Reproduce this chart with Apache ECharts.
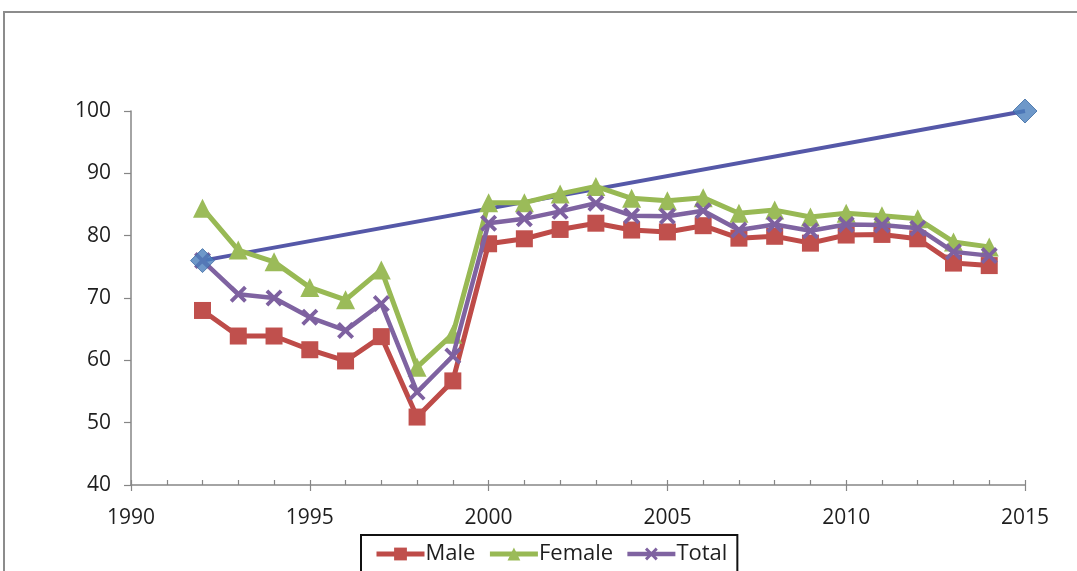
<!DOCTYPE html>
<html>
<head>
<meta charset="utf-8">
<title>Male, Female and Total, 1992–2014</title>
<script src="https://cdn.jsdelivr.net/npm/echarts@6/dist/echarts.min.js"></script>
<style>
  html, body { margin: 0; padding: 0; background: #fff; }
  #chart { width: 1077px; height: 571px; }
</style>
</head>
<body>
<div id="chart"></div>
<script>
// Yearly values per group
const years = [1992, 1993, 1994, 1995, 1996, 1997, 1998, 1999, 2000, 2001, 2002, 2003,
               2004, 2005, 2006, 2007, 2008, 2009, 2010, 2011, 2012, 2013, 2014];
const male = [68.0, 63.9, 63.9, 61.7, 59.9, 63.8, 50.9, 56.7, 78.7, 79.5, 81.0, 82.0,
              80.9, 80.6, 81.6, 79.6, 79.9, 78.8, 80.1, 80.2, 79.5, 75.6, 75.2];
const female = [84.4, 77.7, 75.8, 71.7, 69.7, 74.5, 58.9, 64.2, 85.3, 85.3, 86.7, 87.9,
                86.0, 85.6, 86.1, 83.6, 84.1, 83.0, 83.6, 83.2, 82.7, 79.0, 78.2];
const total = [76.0, 70.6, 70.0, 66.9, 64.8, 69.1, 54.9, 60.7, 82.0, 82.7, 83.9, 85.2,
               83.2, 83.1, 84.0, 80.9, 81.8, 80.8, 81.8, 81.7, 81.2, 77.4, 76.8];
// Target line: start and end points
const targetYears = [1992, 2015];
const targetValues = [76, 100];
const seriesNames = ['Male', 'Female', 'Total'];

const pairs = (xs, ys) => xs.map((x, i) => [x, ys[i]]);

const FONT = '"Open Sans", Lato, sans-serif';
const TEXT = '#1e1e1e';
const AXIS = '#868686';

// Filled "x" shape used as the Total marker
const crossPath = 'path://M0,1.6 L1.6,0 L5,3.4 L8.4,0 L10,1.6 L6.6,5 L10,8.4 L8.4,10 L5,6.6 L1.6,10 L0,8.4 L3.4,5 Z';

const chart = echarts.init(document.getElementById('chart'), null, { renderer: 'canvas' });

chart.setOption({
  animation: false,
  backgroundColor: '#ffffff',
  graphic: [{
    type: 'rect',
    shape: { x: 4, y: 12, width: 1100, height: 620 },
    style: { fill: 'none', stroke: '#8c8c8c', lineWidth: 2 },
    silent: true, z: -10
  }],
  grid: { left: 131, right: 52, top: 111, bottom: 86, containLabel: false },
  legend: {
    data: seriesNames,
    left: 361, top: 535,
    padding: [8, 10, 30, 13],
    itemWidth: 48, itemHeight: 16, itemGap: 12,
    borderColor: '#111', borderWidth: 2,
    lineStyle: { width: 'inherit' },
    textStyle: { fontFamily: FONT, fontSize: 22, color: TEXT, padding: [0, 0, 0, -4] }
  },
  xAxis: [{
    type: 'value', min: 1990, max: 2015, interval: 5,
    axisLine: { show: true, lineStyle: { color: AXIS, width: 1.5 } },
    axisTick: { show: true, length: 6, lineStyle: { color: AXIS, width: 1.2 } },
    axisLabel: { fontFamily: FONT, fontSize: 21, color: TEXT, margin: 23, formatter: v => String(v) },
    splitLine: { show: false }
  }, {
    // yearly inner ticks
    type: 'value', min: 1990, max: 2015, interval: 1, position: 'bottom',
    axisLine: { show: false },
    axisTick: { show: true, inside: true, length: 5, lineStyle: { color: AXIS, width: 1.2 } },
    axisLabel: { show: false },
    splitLine: { show: false }
  }],
  yAxis: {
    type: 'value', min: 40, max: 100, interval: 10,
    axisLine: { show: true, lineStyle: { color: AXIS, width: 1.5 } },
    axisTick: { show: true, length: 7, lineStyle: { color: AXIS, width: 1.2 } },
    axisLabel: { fontFamily: FONT, fontSize: 21, color: TEXT, margin: 20 },
    splitLine: { show: false }
  },
  series: [
    {
      name: 'Target', type: 'line', data: pairs(targetYears, targetValues),
      showSymbol: false, lineStyle: { color: '#5558a8', width: 4 }, z: 2
    },
    {
      name: 'Male', type: 'line', data: pairs(years, male),
      symbol: 'rect', symbolSize: 17,
      lineStyle: { color: '#be4b48', width: 5 },
      itemStyle: { color: '#c0504d' }, z: 3
    },
    {
      name: 'Female', type: 'line', data: pairs(years, female),
      symbol: 'triangle', symbolSize: 19,
      lineStyle: { color: '#98b954', width: 5 },
      itemStyle: { color: '#9bbb59' }, z: 4
    },
    {
      name: 'Total', type: 'line', data: pairs(years, total),
      symbol: crossPath, symbolSize: 17,
      lineStyle: { color: '#7f63a1', width: 4.5 },
      itemStyle: { color: '#7e61a0' }, z: 5
    },
    {
      name: 'TargetPoints', type: 'scatter', data: pairs(targetYears, targetValues),
      symbol: 'diamond', symbolSize: 24,
      itemStyle: { color: '#4a7ebb', borderColor: '#3c6aa3', borderWidth: 1 }, z: 6
    }
  ]
});
</script>
</body>
</html>
